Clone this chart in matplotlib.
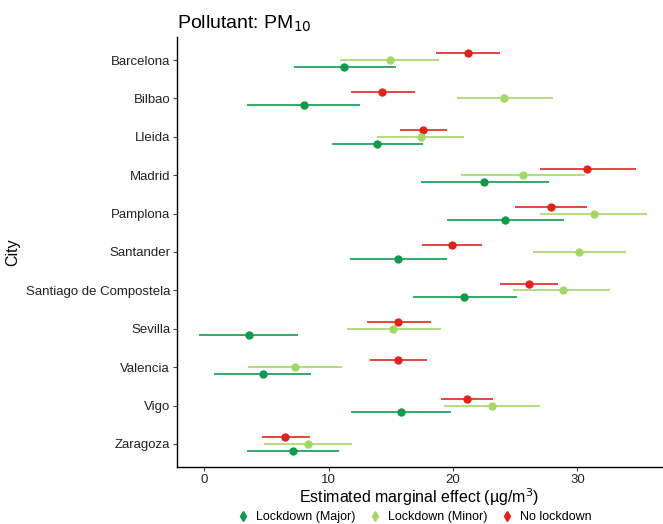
import matplotlib
matplotlib.use("Agg")
import matplotlib.pyplot as plt
from matplotlib.lines import Line2D
import numpy as np

plt.rcParams['font.family'] = ['Liberation Sans', 'DejaVu Sans']

# === Data ===
cities = ["Barcelona", "Bilbao", "Lleida", "Madrid", "Pamplona", "Santander",
          "Santiago de Compostela", "Sevilla", "Valencia", "Vigo", "Zaragoza"]

# No lockdown: estimate, lower, upper
none_est = [21.2, 14.3, 17.6, 30.8, 27.9, 19.9, 26.1, 15.6, 15.6, 21.1, 6.5]
none_lo = [18.6, 11.8, 15.7, 27.0, 25.0, 17.5, 23.8, 13.1, 13.3, 19.0, 4.6]
none_hi = [23.8, 16.9, 19.5, 34.7, 30.8, 22.3, 28.4, 18.2, 17.9, 23.2, 8.5]

# Lockdown (Minor)
minor_est = [14.9, 24.1, 17.4, 25.6, 31.3, 30.1, 28.8, 15.2, 7.3, 23.1, 8.3]
minor_lo = [10.9, 20.3, 13.9, 20.6, 27.0, 26.4, 24.8, 11.5, 3.5, 19.3, 4.8]
minor_hi = [18.9, 28.0, 20.9, 30.6, 35.6, 33.9, 32.6, 19.0, 11.1, 27.0, 11.9]

# Lockdown (Major)
major_est = [11.2, 8.0, 13.9, 22.5, 24.2, 15.6, 20.9, 3.6, 4.7, 15.8, 7.1]
major_lo = [7.2, 3.4, 10.3, 17.4, 19.5, 11.7, 16.8, -0.4, 0.8, 11.8, 3.4]
major_hi = [15.4, 12.5, 17.6, 27.7, 28.9, 19.5, 25.1, 7.5, 8.6, 19.8, 10.8]

col_major = "#109a4a"
col_minor = "#a3d867"
col_none = "#e0231f"

# === Figure ===
fig = plt.figure(figsize=(6.63, 5.24), dpi=100)
ax = fig.add_axes([177 / 663, 1 - 467 / 524, (662 - 177) / 663, (467 - 37) / 524])

ypos = np.arange(len(cities))[::-1]
off = 0.174

series = [
    (none_est, none_lo, none_hi, col_none, off),
    (minor_est, minor_lo, minor_hi, col_minor, 0.0),
    (major_est, major_lo, major_hi, col_major, -off),
]
for est, lo, hi, col, dy in series:
    y = ypos + dy
    ax.hlines(y, lo, hi, color=col, linewidth=1.4, alpha=0.85, zorder=2)
    ax.plot(est, y, 'o', color=col, markersize=5, zorder=3, linestyle='none')

ax.set_yticks(ypos)
ax.set_yticklabels(cities, fontsize=9.5, color="#222222")
ax.set_xticks([0, 10, 20, 30])
ax.tick_params(axis='both', labelsize=9.5, labelcolor="#222222", length=3,
               pad=2, color="#444444")
ax.set_ylim(-0.6, len(cities) - 0.4)
ax.set_xlim(-2.2, 36.8)

for s in ["top", "right"]:
    ax.spines[s].set_visible(False)
ax.spines["left"].set_linewidth(1.0)
ax.spines["bottom"].set_linewidth(1.0)

ax.set_xlabel("Estimated marginal effect (\u00b5g/m$^3$)", fontsize=11.5, labelpad=0)
ax.set_ylabel("City", fontsize=11.5, labelpad=4)
ax.set_title("Pollutant: PM$_{10}$", fontsize=14, loc="left", pad=6)

handles = [
    Line2D([], [], marker='d', color=col_major, linestyle='none', markersize=5.5),
    Line2D([], [], marker='d', color=col_minor, linestyle='none', markersize=5.5),
    Line2D([], [], marker='d', color=col_none, linestyle='none', markersize=5.5),
]
fig.legend(handles, ["Lockdown (Major)", "Lockdown (Minor)", "No lockdown"],
           loc="center", bbox_to_anchor=(0.62, 1 - 517 / 524), ncol=3, frameon=False,
           fontsize=9, handletextpad=0.0, columnspacing=0.6, borderpad=0)

fig.savefig("out.png", dpi=100)
